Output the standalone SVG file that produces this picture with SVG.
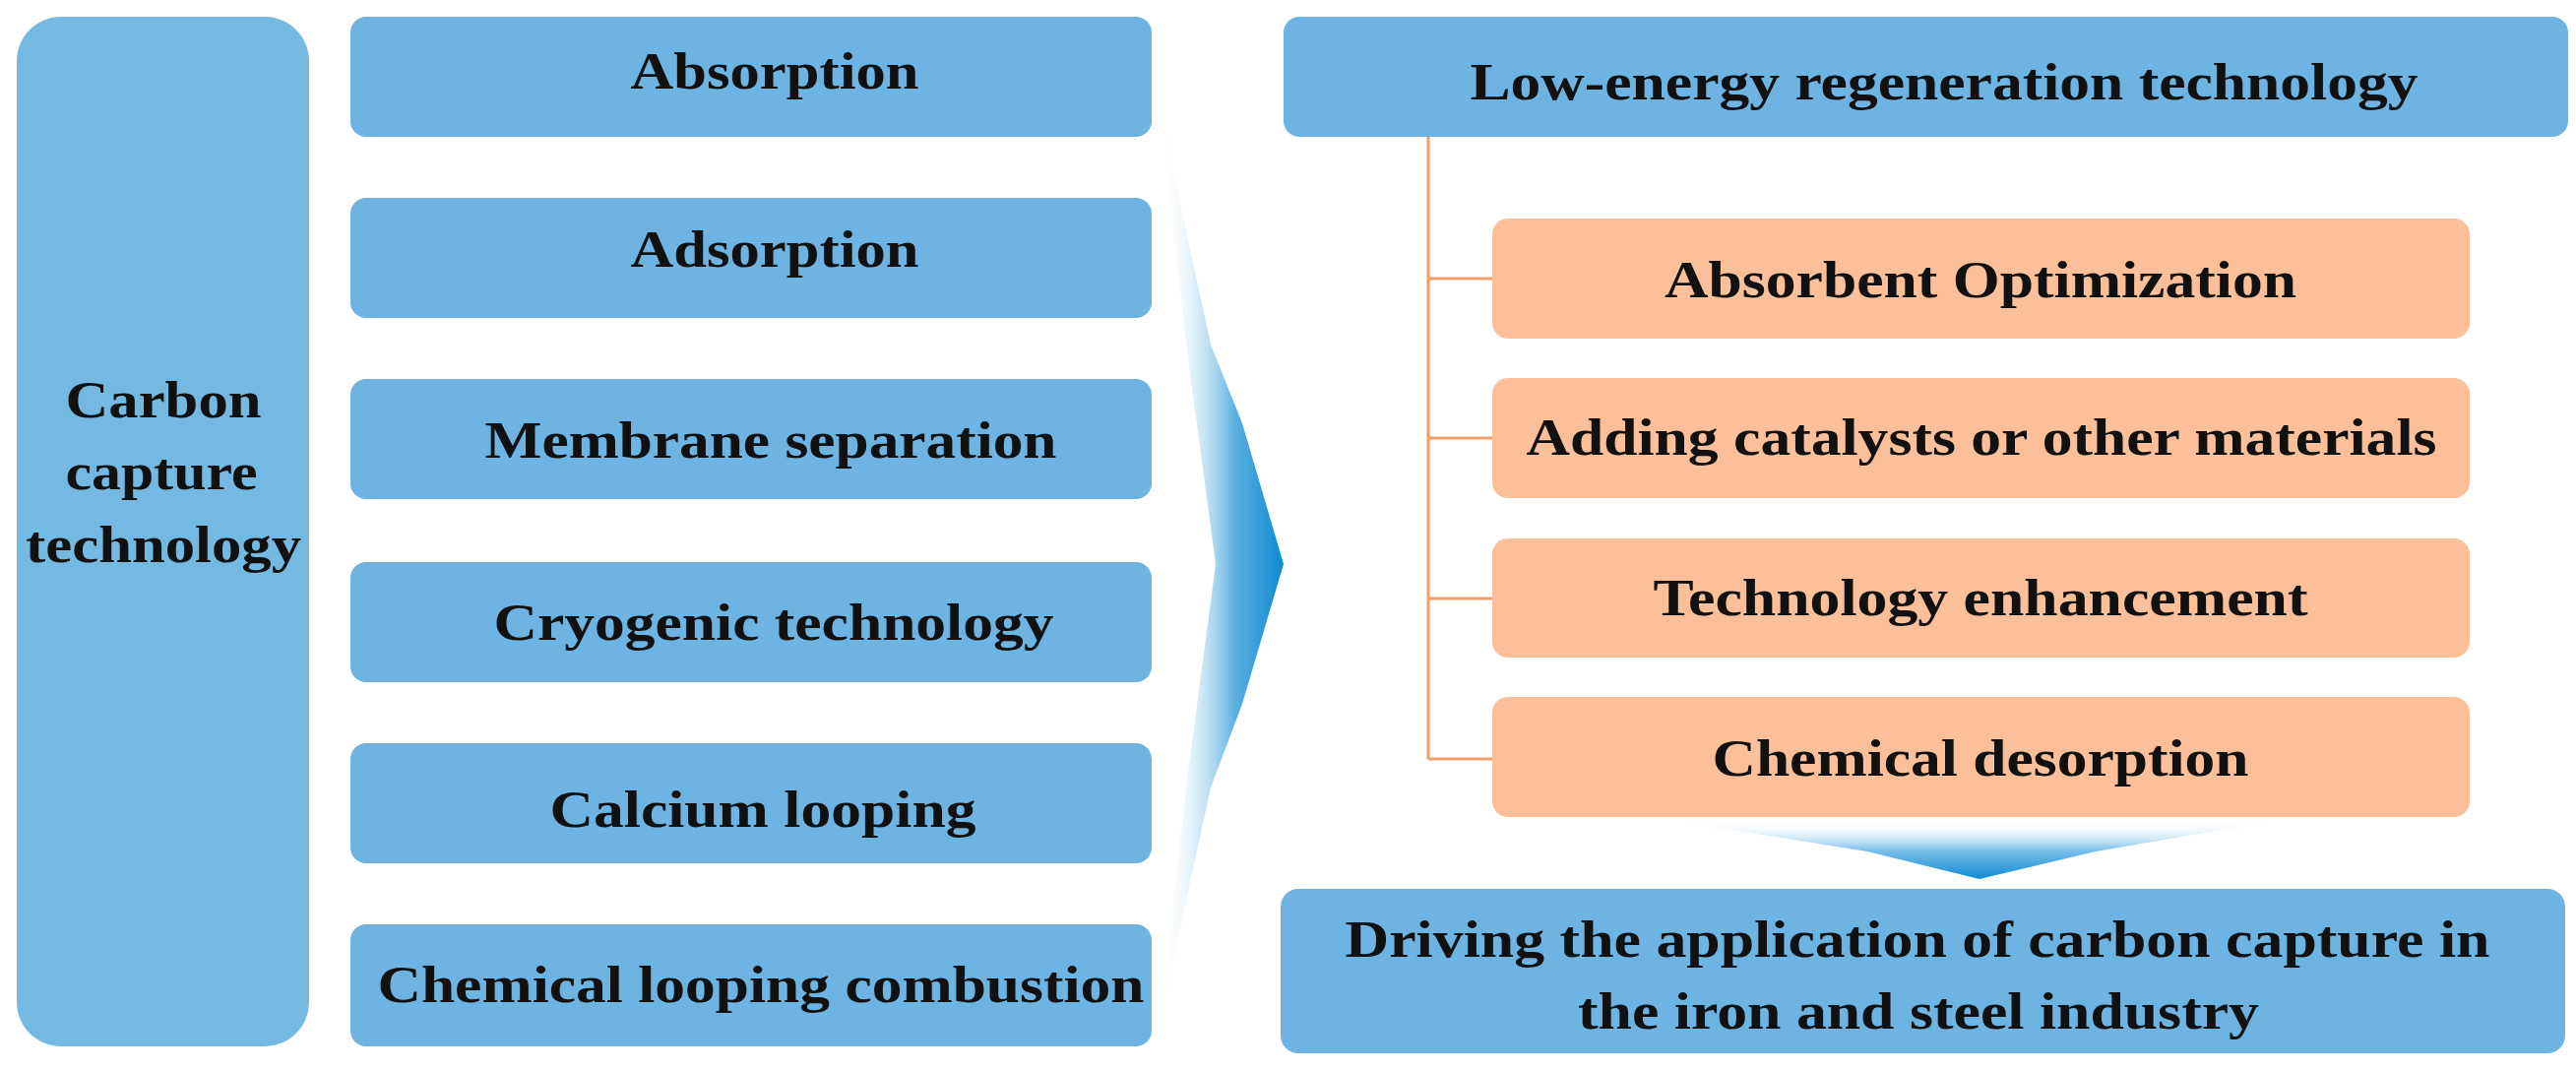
<svg xmlns="http://www.w3.org/2000/svg" width="2617" height="1087" viewBox="0 0 2617 1087">
<style>
.b{fill:#6db4e3}
.o{fill:#fbbf99}
text{font-family:"Liberation Serif",serif;font-weight:bold;font-size:52px;fill:#111;lengthAdjust:spacingAndGlyphs}
.c{stroke:#f29d6a;stroke-width:3;fill:none}
</style>
<defs>
<linearGradient id="ga" x1="0" y1="0" x2="1" y2="0">
<stop offset="0" stop-color="#ffffff" stop-opacity="0"/>
<stop offset="0.6" stop-color="#5bb0e0"/>
<stop offset="1" stop-color="#0f8ad0"/>
</linearGradient>
<linearGradient id="gb" x1="0" y1="0" x2="0" y2="1">
<stop offset="0" stop-color="#ffffff" stop-opacity="0"/>
<stop offset="0.5" stop-color="#7cc0ea"/>
<stop offset="1" stop-color="#0f8ad0"/>
</linearGradient>
</defs>
<g id="carbon"><rect x="17" y="17" width="297" height="1046" rx="45" fill="#74b9e1"/>
<text x="166" y="424" text-anchor="middle" textLength="199" lengthAdjust="spacingAndGlyphs">Carbon</text>
<text x="164" y="497" text-anchor="middle" textLength="195" lengthAdjust="spacingAndGlyphs">capture</text>
<text x="166" y="571" text-anchor="middle" textLength="280" lengthAdjust="spacingAndGlyphs">technology</text></g>
<g id="absorption"><rect class="b" x="356" y="17" width="814" height="122" rx="16"/><text x="787" y="90" text-anchor="middle" textLength="293" lengthAdjust="spacingAndGlyphs">Absorption</text></g>
<g id="adsorption"><rect class="b" x="356" y="201" width="814" height="122" rx="16"/><text x="787" y="271" text-anchor="middle" textLength="293" lengthAdjust="spacingAndGlyphs">Adsorption</text></g>
<g id="membrane"><rect class="b" x="356" y="385" width="814" height="122" rx="16"/><text x="783" y="465" text-anchor="middle" textLength="581" lengthAdjust="spacingAndGlyphs">Membrane separation</text></g>
<g id="cryogenic"><rect class="b" x="356" y="571" width="814" height="122" rx="16"/><text x="786" y="650" text-anchor="middle" textLength="569" lengthAdjust="spacingAndGlyphs">Cryogenic technology</text></g>
<g id="calcium"><rect class="b" x="356" y="755" width="814" height="122" rx="16"/><text x="775" y="840" text-anchor="middle" textLength="433" lengthAdjust="spacingAndGlyphs">Calcium looping</text></g>
<g id="chemlooping"><rect class="b" x="356" y="939" width="814" height="124" rx="16"/><text x="773" y="1018" text-anchor="middle" textLength="779" lengthAdjust="spacingAndGlyphs">Chemical looping combustion</text></g>
<g id="lowenergy"><rect class="b" x="1304" y="17" width="1305" height="122" rx="16"/><text x="1975" y="101" text-anchor="middle" textLength="963" lengthAdjust="spacingAndGlyphs">Low-energy regeneration technology</text></g>
<g id="absorbent"><rect class="o" x="1516" y="222" width="993" height="122" rx="16"/><text x="2012" y="302" text-anchor="middle" textLength="642" lengthAdjust="spacingAndGlyphs">Absorbent Optimization</text></g>
<g id="adding"><rect class="o" x="1516" y="384" width="993" height="122" rx="16"/><text x="2013" y="462" text-anchor="middle" textLength="925" lengthAdjust="spacingAndGlyphs">Adding catalysts or other materials</text></g>
<g id="techenh"><rect class="o" x="1516" y="547" width="993" height="121" rx="16"/><text x="2012" y="625" text-anchor="middle" textLength="665" lengthAdjust="spacingAndGlyphs">Technology enhancement</text></g>
<g id="chemdes"><rect class="o" x="1516" y="708" width="993" height="122" rx="16"/><text x="2012" y="788" text-anchor="middle" textLength="545" lengthAdjust="spacingAndGlyphs">Chemical desorption</text></g>
<g id="driving"><rect class="b" x="1301" y="903" width="1305" height="167" rx="18"/>
<text x="1948" y="972" text-anchor="middle" textLength="1163" lengthAdjust="spacingAndGlyphs">Driving the application of carbon capture in</text>
<text x="1949" y="1045" text-anchor="middle" textLength="692" lengthAdjust="spacingAndGlyphs">the iron and steel industry</text></g>
<g id="connectors">
<path class="c" d="M1451 139V771M1451 283H1516M1451 445H1516M1451 608H1516M1451 771H1516"/>
<polygon fill="url(#ga)" points="1180,120 1230,350 1262,430 1304,573 1262,715 1230,800 1180,1030 1205,800 1235,573 1205,350"/>
<polygon fill="url(#gb)" points="1704,834 2310,834 2129,865 2011,893 1897,865"/>
</g>
</svg>
